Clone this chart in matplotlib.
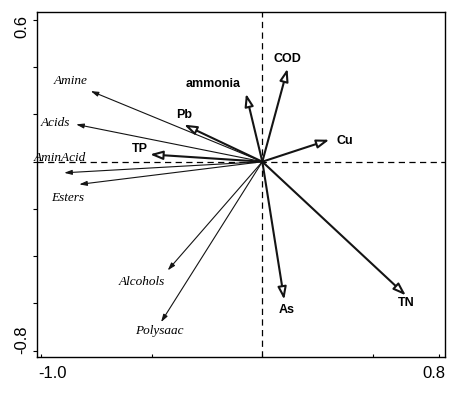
import matplotlib
matplotlib.use("Agg")
import matplotlib.pyplot as plt
import matplotlib.transforms as mtransforms

# Environmental variables (bold arrows, open heads)
env_names = ["COD", "ammonia", "Cu", "As", "TN", "Pb", "TP"]
env_x = [0.114, -0.074, 0.303, 0.099, 0.649, -0.354, -0.508]
env_y = [0.394, 0.288, 0.093, -0.584, -0.566, 0.157, 0.031]

# Response variables (thin arrows, italic labels)
sp_names = ["Amine", "Acids", "AminAcid", "Esters", "Alcohols", "Polysaac"]
sp_x = [-0.776, -0.842, -0.896, -0.828, -0.428, -0.458]
sp_y = [0.299, 0.158, -0.047, -0.096, -0.460, -0.679]

xticks = [-1.0, -0.5, 0.0, 0.5, 0.8]
xticklabels = ["-1.0", "", "", "", "0.8"]
yticks = [-0.8, -0.6, -0.4, -0.2, 0.0, 0.2, 0.4, 0.6]
yticklabels = ["-0.8", "", "", "", "", "", "", "0.6"]

# label offsets in pixels relative to the arrow tips (layout only)
env_off = [(0, 10), (-33, 10), (15, -1), (2, -10), (0, -8), (0, 10), (-10, 5)]
sp_off = [(-20, 10), (-21, 1), (-4, 15), (-12, -14), (-26, -12), (-2, -9)]

fig = plt.figure(figsize=(4.6, 3.97), dpi=100)
ax = fig.add_axes([37 / 460, 1 - 356.7 / 397, (445 - 37) / 460, (356.7 - 11.7) / 397])
ax.set_xlim(-1.019, 0.826)
ax.set_ylim(-0.8254, 0.635)

ax.axhline(0, color="black", lw=0.9, ls=(0, (5, 3.5)), zorder=1)
ax.axvline(0, color="black", lw=0.9, ls=(0, (5, 3.5)), zorder=1)

col = "#141414"
for name, x, y, (dx, dy) in zip(sp_names, sp_x, sp_y, sp_off):
    ax.annotate("", xy=(x, y), xytext=(0, 0),
                arrowprops=dict(arrowstyle="-|>,head_length=0.45,head_width=0.14",
                                color=col, lw=0.8, shrinkA=0, shrinkB=0,
                                mutation_scale=10), zorder=2)
    ax.annotate(name, xy=(x, y), xytext=(dx, dy), textcoords="offset pixels",
                ha="center", va="center", fontsize=9.5, style="italic",
                family="Liberation Serif", color="black", zorder=4)

for name, x, y, (dx, dy) in zip(env_names, env_x, env_y, env_off):
    ax.annotate("", xy=(x, y), xytext=(0, 0),
                arrowprops=dict(arrowstyle="-|>,head_length=0.75,head_width=0.26",
                                fc="white", ec=col, lw=1.5, shrinkA=0, shrinkB=0,
                                mutation_scale=10), zorder=3)
    ax.annotate(name, xy=(x, y), xytext=(dx, dy), textcoords="offset pixels",
                ha="center", va="center", fontsize=9, fontweight="bold",
                family="Liberation Sans", color="black", zorder=4)

ax.set_xticks(xticks)
ax.set_xticklabels(xticklabels, fontsize=12, family="Liberation Sans")
ax.set_yticks(yticks)
ax.set_yticklabels(yticklabels, fontsize=12, family="Liberation Sans",
                   rotation=90, va="center")
ax.tick_params(axis="x", direction="in", length=2.2, width=0.8, pad=7)
ax.tick_params(axis="y", direction="out", length=2.6, width=0.8, pad=3)

for s in ax.spines.values():
    s.set_linewidth(1.0)

# shift the end labels as in the reference
xl = ax.get_xticklabels()
xl[0].set_transform(xl[0].get_transform() + mtransforms.ScaledTranslation(11 / 100, 0, fig.dpi_scale_trans))
xl[-1].set_transform(xl[-1].get_transform() + mtransforms.ScaledTranslation(-5.6 / 100, 0, fig.dpi_scale_trans))
yl = ax.get_yticklabels()
yl[0].set_transform(yl[0].get_transform() + mtransforms.ScaledTranslation(0, 10.7 / 100, fig.dpi_scale_trans))
yl[-1].set_transform(yl[-1].get_transform() + mtransforms.ScaledTranslation(0, -7 / 100, fig.dpi_scale_trans))

fig.savefig("out.png", dpi=100)
